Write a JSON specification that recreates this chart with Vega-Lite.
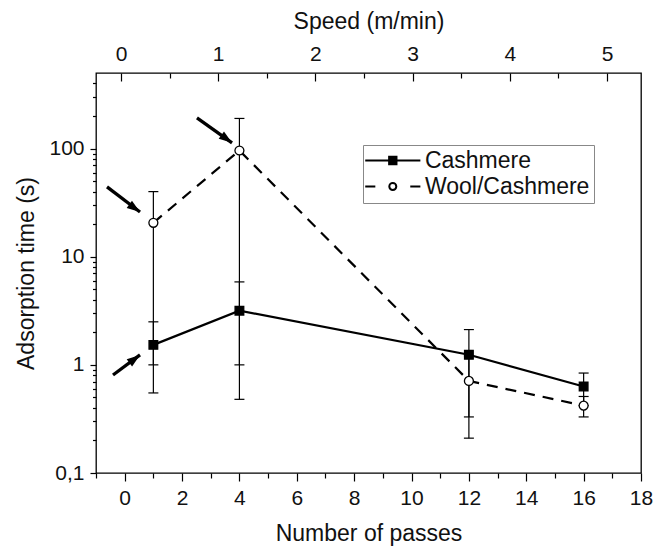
{
  "$schema": "https://vega.github.io/schema/vega-lite/v6.json",
  "autosize": "none",
  "width": 545,
  "height": 400,
  "padding": {"left": 96, "top": 73, "right": 15, "bottom": 74},
  "background": "white",
  "datasets": {
    "pts": [
      {"series": "Cashmere", "passes": 1, "time": 1.53, "lo": 0.55, "hi": 2.5},
      {"series": "Cashmere", "passes": 4, "time": 3.17, "lo": 0.48, "hi": 5.85},
      {"series": "Cashmere", "passes": 12, "time": 1.24, "lo": 0.33, "hi": 2.12},
      {"series": "Cashmere", "passes": 16, "time": 0.63, "lo": 0.42, "hi": 0.84},
      {"series": "Wool/Cashmere", "passes": 1, "time": 20.6, "lo": 1.0, "hi": 40},
      {"series": "Wool/Cashmere", "passes": 4, "time": 96, "lo": 1.0, "hi": 190},
      {"series": "Wool/Cashmere", "passes": 12, "time": 0.71, "lo": 0.21, "hi": 1.21},
      {"series": "Wool/Cashmere", "passes": 16, "time": 0.42, "lo": 0.33, "hi": 0.51}
    ],
    "arrows": [
      {"x1": -0.616, "y1": 44.3, "x2": 0.534, "y2": 25.9, "kind": "down"},
      {"x1": 2.52, "y1": 192, "x2": 3.742, "y2": 113, "kind": "down"},
      {"x1": -0.407, "y1": 0.806, "x2": 0.534, "y2": 1.235, "kind": "up"}
    ],
    "speed": [{"speed": 0}, {"speed": 5}]
  },
  "config": {
    "font": "Liberation Sans",
    "view": {"stroke": "black", "strokeWidth": 1.3},
    "axis": {
      "grid": false,
      "domain": false,
      "tickColor": "black",
      "tickWidth": 1.2,
      "tickCount": 100,
      "labelFont": "Liberation Sans",
      "labelFontSize": 21,
      "labelColor": "#111",
      "titleFont": "Liberation Sans",
      "titleFontSize": 23,
      "titleFontWeight": "normal",
      "titleColor": "#111",
      "labelFlush": false,
      "labelOverlap": false,
      "labelBound": false
    }
  },
  "resolve": {"scale": {"x": "independent"}, "axis": {"x": "independent"}},
  "layer": [
    {
      "layer": [
        {
          "data": {"name": "pts"},
          "mark": {"type": "rule", "color": "black", "strokeWidth": 1.2},
          "encoding": {
            "x": {
              "field": "passes",
              "type": "quantitative",
              "scale": {"domain": [-1, 18], "nice": false, "zero": false},
              "axis": {
                "orient": "bottom",
                "title": "Number of passes",
                "tickCount": 100,
                "values": [-1, 0, 1, 2, 3, 4, 5, 6, 7, 8, 9, 10, 11, 12, 13, 14, 15, 16, 17, 18],
                "labelExpr": "datum.value % 2 == 0 ? format(datum.value, 'd') : ''",
                "tickSize": {"condition": {"test": "datum.value % 2 != 0", "value": 5}, "value": 8},
                "labelPadding": 6.5,
                "titlePadding": 14
              }
            },
            "y": {
              "field": "lo",
              "type": "quantitative",
              "scale": {"type": "log", "domain": [0.1, 500], "nice": false},
              "axis": {
                "title": "Adsorption time (s)",
                "tickCount": 100,
                "values": [0.1, 0.2, 0.3, 0.4, 0.5, 0.6, 0.7, 0.8, 0.9, 1, 2, 3, 4, 5, 6, 7, 8, 9, 10, 20, 30, 40, 50, 60, 70, 80, 90, 100, 200, 300, 400],
                "labelExpr": "datum.value == 0.1 ? '0,1' : (indexof([1, 10, 100], datum.value) >= 0 ? format(datum.value, 'd') : '')",
                "tickSize": {"condition": {"test": "indexof([0.1, 1, 10, 100], datum.value) < 0", "value": 3.5}, "value": 6},
                "labelPadding": 6,
                "titlePadding": 10
              }
            },
            "y2": {"field": "hi"}
          }
        },
        {
          "data": {"name": "pts"},
          "mark": {"type": "tick", "orient": "horizontal", "color": "black", "size": 10, "thickness": 1.2, "opacity": 1},
          "encoding": {
            "x": {"field": "passes", "type": "quantitative"},
            "y": {"field": "lo", "type": "quantitative"}
          }
        },
        {
          "data": {"name": "pts"},
          "mark": {"type": "tick", "orient": "horizontal", "color": "black", "size": 10, "thickness": 1.2, "opacity": 1},
          "encoding": {
            "x": {"field": "passes", "type": "quantitative"},
            "y": {"field": "hi", "type": "quantitative"}
          }
        },
        {
          "data": {"name": "pts"},
          "transform": [{"filter": "datum.series == 'Cashmere'"}],
          "mark": {"type": "line", "color": "black", "strokeWidth": 2.2},
          "encoding": {
            "x": {"field": "passes", "type": "quantitative"},
            "y": {"field": "time", "type": "quantitative"}
          }
        },
        {
          "data": {"name": "pts"},
          "transform": [{"filter": "datum.series == 'Wool/Cashmere'"}],
          "mark": {"type": "line", "color": "black", "strokeWidth": 2.2, "strokeDash": [11, 8]},
          "encoding": {
            "x": {"field": "passes", "type": "quantitative"},
            "y": {"field": "time", "type": "quantitative"}
          }
        },
        {
          "data": {"name": "pts"},
          "transform": [{"filter": "datum.series == 'Cashmere'"}],
          "mark": {"type": "point", "shape": "square", "filled": true, "opacity": 1, "fill": "black", "stroke": "black", "strokeWidth": 1.3, "size": 75},
          "encoding": {
            "x": {"field": "passes", "type": "quantitative"},
            "y": {"field": "time", "type": "quantitative"}
          }
        },
        {
          "data": {"name": "pts"},
          "transform": [{"filter": "datum.series == 'Wool/Cashmere'"}],
          "mark": {"type": "point", "shape": "circle", "filled": true, "opacity": 1, "fill": "white", "stroke": "black", "strokeWidth": 1.3, "size": 80},
          "encoding": {
            "x": {"field": "passes", "type": "quantitative"},
            "y": {"field": "time", "type": "quantitative"}
          }
        },
        {
          "data": {"name": "pts"},
          "transform": [{"filter": "false"}],
          "mark": {"type": "point", "filled": true, "opacity": 1, "stroke": "black", "strokeWidth": 2},
          "encoding": {
            "x": {"field": "passes", "type": "quantitative"},
            "y": {"field": "time", "type": "quantitative"},
            "shape": {
              "field": "series",
              "type": "nominal",
              "scale": {
                "domain": ["Cashmere", "Wool/Cashmere"],
                "range": ["M-3,0H3M-0.4,-0.4H0.4V0.4H-0.4Z", "M-3,0H-1.9M1.9,0H3M0.38,0A0.38,0.38 0 1,1 -0.38,0A0.38,0.38 0 1,1 0.38,0Z"]
              },
              "legend": {
                "orient": "none",
                "legendX": 267,
                "legendY": 72,
                "title": null,
                "padding": 4,
                "strokeColor": "#888",
                "fillColor": "white",
                "labelFont": "Liberation Sans",
                "labelFontSize": 23,
                "labelColor": "#111",
                "labelLimit": 400,
                "symbolSize": 338,
                "symbolStrokeColor": "black",
                "symbolStrokeWidth": 2,
                "symbolOpacity": 1,
                "symbolOffset": 14.3,
                "labelOffset": 20.6,
                "rowPadding": 2,
                "encode": {
                  "symbols": {
                    "update": {
                      "stroke": {"value": "black"},
                      "strokeWidth": {"value": 2}
                    }
                  }
                }
              }
            },
            "fill": {
              "field": "series",
              "type": "nominal",
              "scale": {"domain": ["Cashmere", "Wool/Cashmere"], "range": ["black", "white"]},
              "legend": {
                "orient": "none",
                "legendX": 267,
                "legendY": 72,
                "title": null,
                "padding": 4,
                "strokeColor": "#888",
                "fillColor": "white",
                "labelFont": "Liberation Sans",
                "labelFontSize": 23,
                "labelColor": "#111",
                "labelLimit": 400,
                "symbolSize": 338,
                "symbolStrokeColor": "black",
                "symbolStrokeWidth": 2,
                "symbolOpacity": 1,
                "symbolOffset": 14.3,
                "labelOffset": 20.6,
                "rowPadding": 2,
                "encode": {
                  "symbols": {
                    "update": {
                      "stroke": {"value": "black"},
                      "strokeWidth": {"value": 2}
                    }
                  }
                }
              }
            }
          }
        },
        {
          "data": {"name": "arrows"},
          "mark": {"type": "rule", "color": "black", "strokeWidth": 3.3, "strokeCap": "butt"},
          "encoding": {
            "x": {"field": "x1", "type": "quantitative"},
            "y": {"field": "y1", "type": "quantitative"},
            "x2": {"field": "x2"},
            "y2": {"field": "y2"}
          }
        },
        {
          "data": {"name": "arrows"},
          "transform": [{"filter": "datum.kind == 'down'"}],
          "mark": {"type": "point", "shape": "M0,0L0.75,2.2L-0.75,2.2Z", "size": 144, "filled": true, "color": "black", "opacity": 1, "strokeWidth": 0, "angle": 126},
          "encoding": {
            "x": {"field": "x2", "type": "quantitative"},
            "y": {"field": "y2", "type": "quantitative"}
          }
        },
        {
          "data": {"name": "arrows"},
          "transform": [{"filter": "datum.kind == 'up'"}],
          "mark": {"type": "point", "shape": "M0,0L0.75,2.2L-0.75,2.2Z", "size": 144, "filled": true, "color": "black", "opacity": 1, "strokeWidth": 0, "angle": 53.5},
          "encoding": {
            "x": {"field": "x2", "type": "quantitative"},
            "y": {"field": "y2", "type": "quantitative"}
          }
        }
      ]
    },
    {
      "data": {"name": "speed"},
      "mark": {"type": "rule", "opacity": 0},
      "encoding": {
        "x": {
          "field": "speed",
          "type": "quantitative",
          "scale": {"domain": [-0.257, 5.35], "nice": false, "zero": false},
          "axis": {
            "orient": "top",
            "title": "Speed (m/min)",
            "tickCount": 100,
            "values": [0, 0.5, 1, 1.5, 2, 2.5, 3, 3.5, 4, 4.5, 5],
            "labelExpr": "datum.value % 1 == 0 ? format(datum.value, 'd') : ''",
            "tickSize": {"condition": {"test": "datum.value % 1 != 0", "value": -5}, "value": -8},
            "labelPadding": 16.6,
            "titlePadding": 7
          }
        }
      }
    }
  ]
}
